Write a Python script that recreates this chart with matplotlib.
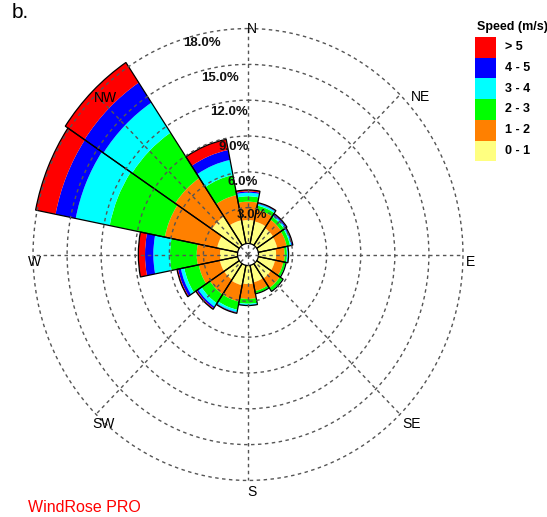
import numpy as np
import matplotlib
matplotlib.use("Agg")
import matplotlib.pyplot as plt
from matplotlib.patches import Rectangle

# ---- data -----------------------------------------------------------
directions = ["N", "NNE", "NE", "ENE", "E", "ESE", "SE", "SSE",
              "S", "SSW", "SW", "WSW", "W", "WNW", "NW", "NNW"]
speed_classes = ["0 - 1", "1 - 2", "2 - 3", "3 - 4", "4 - 5", "> 5"]
class_colors = ["#FFFF80", "#FF8000", "#00FF00", "#00FFFF", "#0000FF", "#FF0000"]

# frequency (%) of each speed class per direction sector
freq_0_1 = [1.96, 1.90, 1.75, 1.70, 1.55, 1.50, 1.50, 1.45, 1.55, 1.70, 1.60, 1.60, 1.54, 1.85, 2.90, 2.00]
freq_1_2 = [1.54, 1.00, 0.85, 0.85, 0.75, 0.75, 0.95, 0.75, 1.25, 1.40, 1.50, 1.90, 2.05, 4.69, 3.88, 2.15]
freq_2_3 = [0.45, 0.35, 0.30, 0.30, 0.20, 0.20, 0.30, 0.20, 0.40, 0.70, 0.90, 1.30, 2.35, 4.95, 4.57, 1.71]
freq_3_4 = [0.30, 0.15, 0.15, 0.12, 0.08, 0.05, 0.05, 0.03, 0.12, 0.20, 0.35, 0.30, 1.47, 3.05, 3.03, 1.29]
freq_4_5 = [0.10, 0.05, 0.10, 0.08, 0.04, 0.00, 0.00, 0.00, 0.03, 0.05, 0.15, 0.25, 0.73, 1.81, 2.01, 0.85]
freq_gt5 = [0.13, 0.05, 0.05, 0.05, 0.03, 0.00, 0.00, 0.00, 0.00, 0.05, 0.10, 0.10, 0.59, 1.79, 2.03, 0.91]

ring_values = [3, 6, 9, 12, 15, 18]
ring_labels = ["3.0%", "6.0%", "9.0%", "12.0%", "15.0%", "18.0%"]
compass_labels = ["N", "NE", "E", "SE", "S", "SW", "W", "NW"]

# ---- layout (pixel units of a 547 x 517 canvas) ---------------------
W, H = 547, 517
CX, CY = 248.0, 254.5          # rose centre
PX_PER_PCT = 11.36             # horizontal pixels per percent
CALM_PX = 10.5                 # radius of the calm circle
Y_STRETCH = 1.051              # rose is slightly taller than wide
R_MIN = -CALM_PX / PX_PER_PCT
R_MAX = 18.6

def fx(x):
    return x / W

def fy(y):
    return 1.0 - y / H

fig = plt.figure(figsize=(W / 100, H / 100), dpi=100)
fig.patch.set_facecolor("white")

half_w = (R_MAX - R_MIN) * PX_PER_PCT
half_h = half_w * Y_STRETCH
ax = fig.add_axes([fx(CX - half_w), fy(CY + half_h), 2 * half_w / W, 2 * half_h / H],
                  projection="polar")
ax.set_aspect("auto")
ax.set_theta_zero_location("N")
ax.set_theta_direction(-1)
ax.set_ylim(R_MIN, R_MAX)
ax.spines["polar"].set_visible(False)
ax.set_facecolor("white")

# ---- stacked sectors ------------------------------------------------
layers = [freq_0_1, freq_1_2, freq_2_3, freq_3_4, freq_4_5, freq_gt5]
n = len(directions)
theta = np.deg2rad(np.arange(n) * 360.0 / n)
width = 2 * np.pi / n
bottom = np.zeros(n)
for vals, col in zip(layers, class_colors):
    vals = np.asarray(vals)
    ax.bar(theta, vals, width=width, bottom=bottom, color=col,
           edgecolor="none", linewidth=0, align="center", zorder=1)
    bottom += vals
# sector outlines
ax.bar(theta, bottom, width=width, bottom=0, facecolor="none",
       edgecolor="black", linewidth=0.9, align="center", zorder=1.5)

# ---- grid: dashed rings and spokes ----------------------------------
grid_kw = dict(color="#555555", linestyle=(0, (2.5, 2.5)), linewidth=1.0)
ax.set_rgrids(ring_values, labels=[])
ax.yaxis.grid(True, **grid_kw)
ax.set_xticks([])
ax.xaxis.grid(False)
ax.set_axisbelow(False)
for deg in range(0, 360, 45):
    t = np.deg2rad(deg)
    ax.plot([t, t], [R_MIN, ring_values[-1]], zorder=2.6, **grid_kw)
ax.tick_params(labelleft=False, labelbottom=False, length=0)

# ---- texts ----------------------------------------------------------
label_font = dict(family="Liberation Sans", fontsize=10, color="black",
                  ha="center", va="center")
compass_pos = [(252, 29), (421, 97), (471, 262), (412, 424),
               (252, 492), (104, 424), (35, 262), (105, 98)]
for lab, (x, y) in zip(compass_labels, compass_pos):
    fig.text(fx(x), fy(y), lab, zorder=5, **label_font)

pct_pos = [(252, 215), (242.5, 182), (233.5, 147), (229, 112), (220, 78), (202, 43)]
for lab, (x, y) in zip(ring_labels, pct_pos):
    fig.text(fx(x), fy(y), lab, family="Liberation Sans", fontsize=9.5,
             fontweight="bold", color="#111111", ha="center", va="center", zorder=5)

fig.text(fx(12), fy(13), "b.", family="Liberation Sans", fontsize=15,
         color="black", ha="left", va="center")
fig.text(fx(28), fy(508), "WindRose PRO", family="Liberation Sans",
         fontsize=11.5, color="#FF0000", ha="left", va="center")

# ---- legend ---------------------------------------------------------
fig.text(fx(477), fy(27), "Speed (m/s)", family="Liberation Sans", fontsize=9,
         fontweight="bold", ha="left", va="center")
box_x, box_w, box_top, box_h = 475, 21, 36.7, 20.8
for i, (lab, col) in enumerate(zip(speed_classes[::-1], class_colors[::-1])):
    y0 = box_top + i * box_h
    fig.add_artist(Rectangle((fx(box_x), fy(y0 + box_h)), box_w / W, box_h / H,
                             transform=fig.transFigure, facecolor=col,
                             edgecolor="none"))
    fig.text(fx(505), fy(y0 + box_h / 2), lab, family="Liberation Sans",
             fontsize=9, fontweight="bold", ha="left", va="center")

fig.savefig("out.png", dpi=100, facecolor="white")
